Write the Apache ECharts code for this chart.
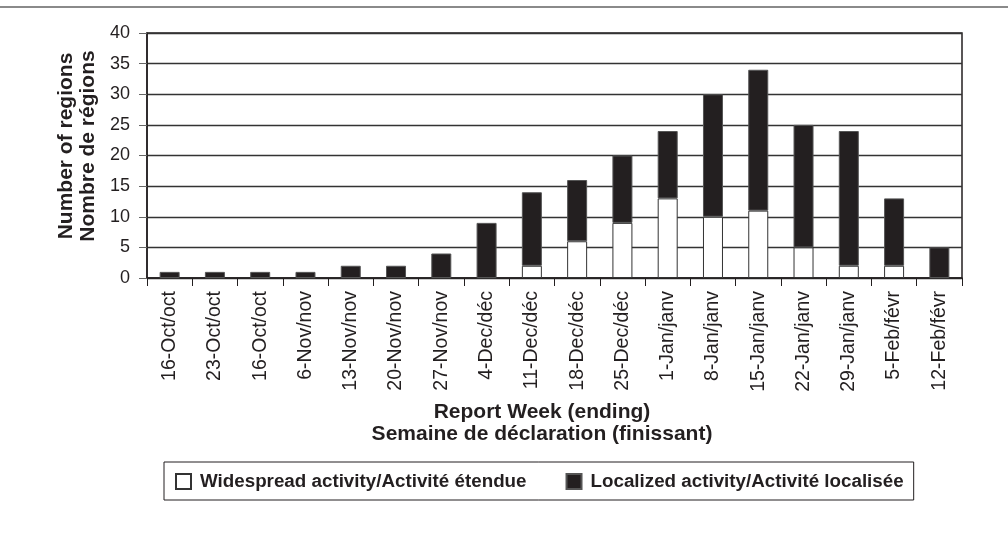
<!DOCTYPE html>
<html>
<head>
<meta charset="utf-8">
<script src="https://cdn.jsdelivr.net/npm/echarts@6/dist/echarts.min.js"></script>
<style>
  html, body { margin: 0; padding: 0; background: #fff; }
  #chart { width: 1008px; height: 536px; }
</style>
</head>
<body>
<div id="chart"></div>
<script>
// report weeks (ending)
const weeks = [
  '16-Oct/oct', '23-Oct/oct', '16-Oct/oct', '6-Nov/nov', '13-Nov/nov', '20-Nov/nov',
  '27-Nov/nov', '4-Dec/déc', '11-Dec/déc', '18-Dec/déc', '25-Dec/déc', '1-Jan/janv',
  '8-Jan/janv', '15-Jan/janv', '22-Jan/janv', '29-Jan/janv', '5-Feb/févr', '12-Feb/févr',
]
// number of regions per activity level
const widespread = [0, 0, 0, 0, 0, 0, 0, 0, 2, 6, 9, 13, 10, 11, 5, 2, 2, 0]
const localized = [1, 1, 1, 1, 2, 2, 4, 9, 12, 10, 11, 11, 20, 23, 20, 22, 11, 5]
const yTicks = [0, 5, 10, 15, 20, 25, 30, 35, 40]

const ink = '#231f20'
const font = '"Liberation Sans", Arial, sans-serif'

const chart = echarts.init(document.getElementById('chart'))

function titleText(text, x, y, rotated) {
  return {
    type: 'text',
    x: x,
    y: y,
    rotation: rotated ? Math.PI / 2 : 0,
    style: {
      text: text,
      font: 'bold 21px ' + font,
      fill: ink,
      textAlign: 'center',
      textVerticalAlign: 'middle',
    },
  }
}

const option = {
  animation: false,
  textStyle: { fontFamily: font },
  grid: {
    left: 147,
    right: 46,
    top: 33,
    bottom: 258,
    show: true,
    borderColor: ink,
    borderWidth: 1.5,
  },
  legend: {
    left: 164,
    top: 462,
    orient: 'horizontal',
    padding: [10, 10, 9, 11],
    itemWidth: 15,
    itemHeight: 15,
    itemGap: 39,
    borderColor: ink,
    borderWidth: 1,
    icon: 'rect',
    textStyle: {
      fontFamily: font,
      fontSize: 18.8,
      fontWeight: 'bold',
      color: ink,
      padding: [0, 0, 0, 4],
    },
    data: ['Widespread activity/Activité étendue', 'Localized activity/Activité localisée'],
  },
  xAxis: {
    type: 'category',
    data: weeks,
    axisLine: { lineStyle: { color: ink, width: 1.5 } },
    axisTick: { show: true, length: 8, lineStyle: { color: ink } },
    axisLabel: {
      rotate: 90,
      interval: 0,
      fontSize: 19.5,
      color: ink,
      margin: 13,
    },
  },
  yAxis: {
    type: 'value',
    min: yTicks[0],
    max: yTicks[yTicks.length - 1],
    interval: 5,
    axisLine: { show: true, lineStyle: { color: ink, width: 1.5 } },
    axisTick: { show: true, length: 8, lineStyle: { color: '#666' } },
    axisLabel: { fontSize: 18, color: ink, margin: 17 },
    splitLine: { lineStyle: { color: '#333', width: 1.3 } },
  },
  series: [
    {
      name: 'Widespread activity/Activité étendue',
      type: 'bar',
      stack: 'total',
      barWidth: 20,
      data: widespread,
      itemStyle: { color: '#ffffff', borderColor: '#333', borderWidth: 1 },
    },
    {
      name: 'Localized activity/Activité localisée',
      type: 'bar',
      stack: 'total',
      barWidth: 20,
      data: localized,
      itemStyle: { color: ink, borderColor: '#555', borderWidth: 1 },
    },
  ],
  graphic: [
    {
      type: 'line',
      shape: { x1: 0, y1: 7, x2: 1008, y2: 7 },
      style: { stroke: '#8a8a8a', lineWidth: 2 },
    },
    titleText('Report Week (ending)', 542, 412),
    titleText('Semaine de déclaration (finissant)', 542, 434),
    titleText('Number of regions', 66, 146, true),
    titleText('Nombre de régions', 88, 146, true),
  ],
}

chart.setOption(option)
</script>
</body>
</html>
